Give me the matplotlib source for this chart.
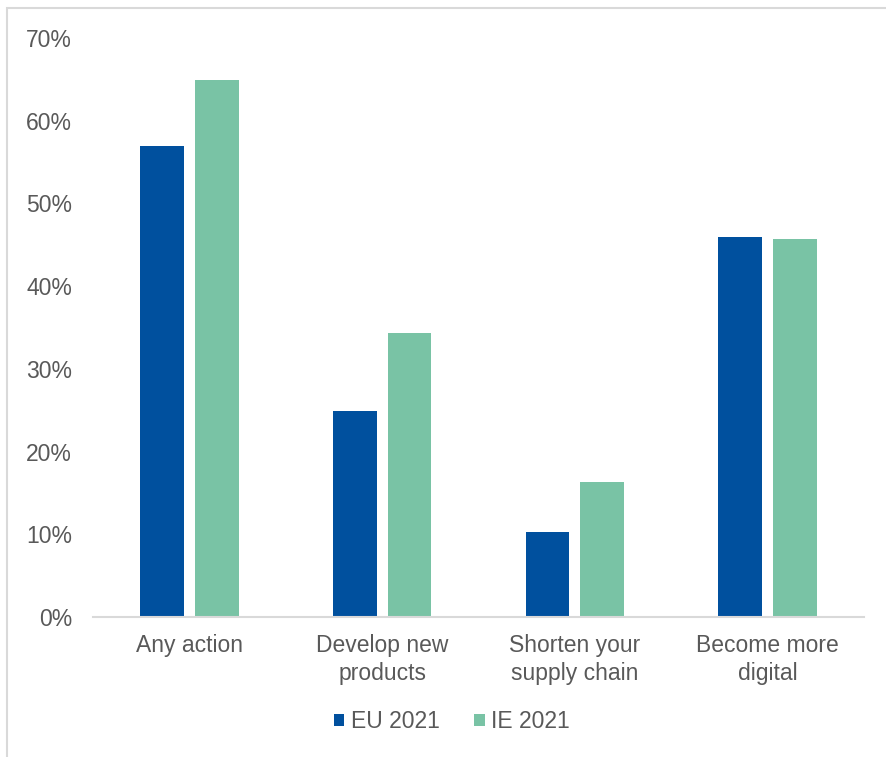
import numpy as np
import matplotlib.pyplot as plt
from matplotlib.patches import Rectangle

categories = ['Any action', 'Develop new\nproducts', 'Shorten your\nsupply chain', 'Become more\ndigital']
eu_2021 = [0.57, 0.249, 0.103, 0.459]
ie_2021 = [0.649, 0.343, 0.163, 0.457]
y_ticks = [0.0, 0.1, 0.2, 0.3, 0.4, 0.5, 0.6, 0.7]

plt.rcParams['font.family'] = ['Liberation Sans', 'DejaVu Sans']
text_col = '#595959'
fs = 16.5

fig = plt.figure(figsize=(8.86, 7.57), dpi=100)
fig.patches.append(Rectangle((7 / 886, -0.1), 1.2, 1.1 - 8 / 757, transform=fig.transFigure,
                             fill=False, edgecolor='#d9d9d9', linewidth=1.5))
ax = fig.add_axes([93 / 886, 1 - 617 / 757, (864 - 93) / 886, (617 - 38) / 757])

x = np.arange(len(categories))
w = 0.226
ax.bar(x - 0.142, eu_2021, w, color='#00509e', label='EU 2021')
ax.bar(x + 0.142, ie_2021, w, color='#79c3a5', label='IE 2021')

ax.set_xlim(-0.5, len(categories) - 0.5)
ax.set_ylim(0, 0.7)
ax.set_yticks(y_ticks)
ax.set_yticklabels(['%d%%' % round(v * 100) for v in y_ticks])
ax.set_xticks(x)
ax.set_xticklabels(categories, linespacing=1.3)
ax.tick_params(axis='both', length=0, labelsize=fs, colors=text_col)
ax.tick_params(axis='y', pad=15)
ax.tick_params(axis='x', pad=12)

for s in ['top', 'right', 'left']:
    ax.spines[s].set_visible(False)
ax.spines['bottom'].set_color('#d9d9d9')
ax.spines['bottom'].set_linewidth(1.5)

leg = fig.legend(loc='center', bbox_to_anchor=(452 / 886, 1 - 722 / 757), ncol=2,
                 frameon=False, fontsize=fs, handlelength=0.45, handleheight=0.45,
                 handletextpad=0.3, columnspacing=1.5)
for t in leg.get_texts():
    t.set_color(text_col)

fig.savefig('out.png', dpi=100)
